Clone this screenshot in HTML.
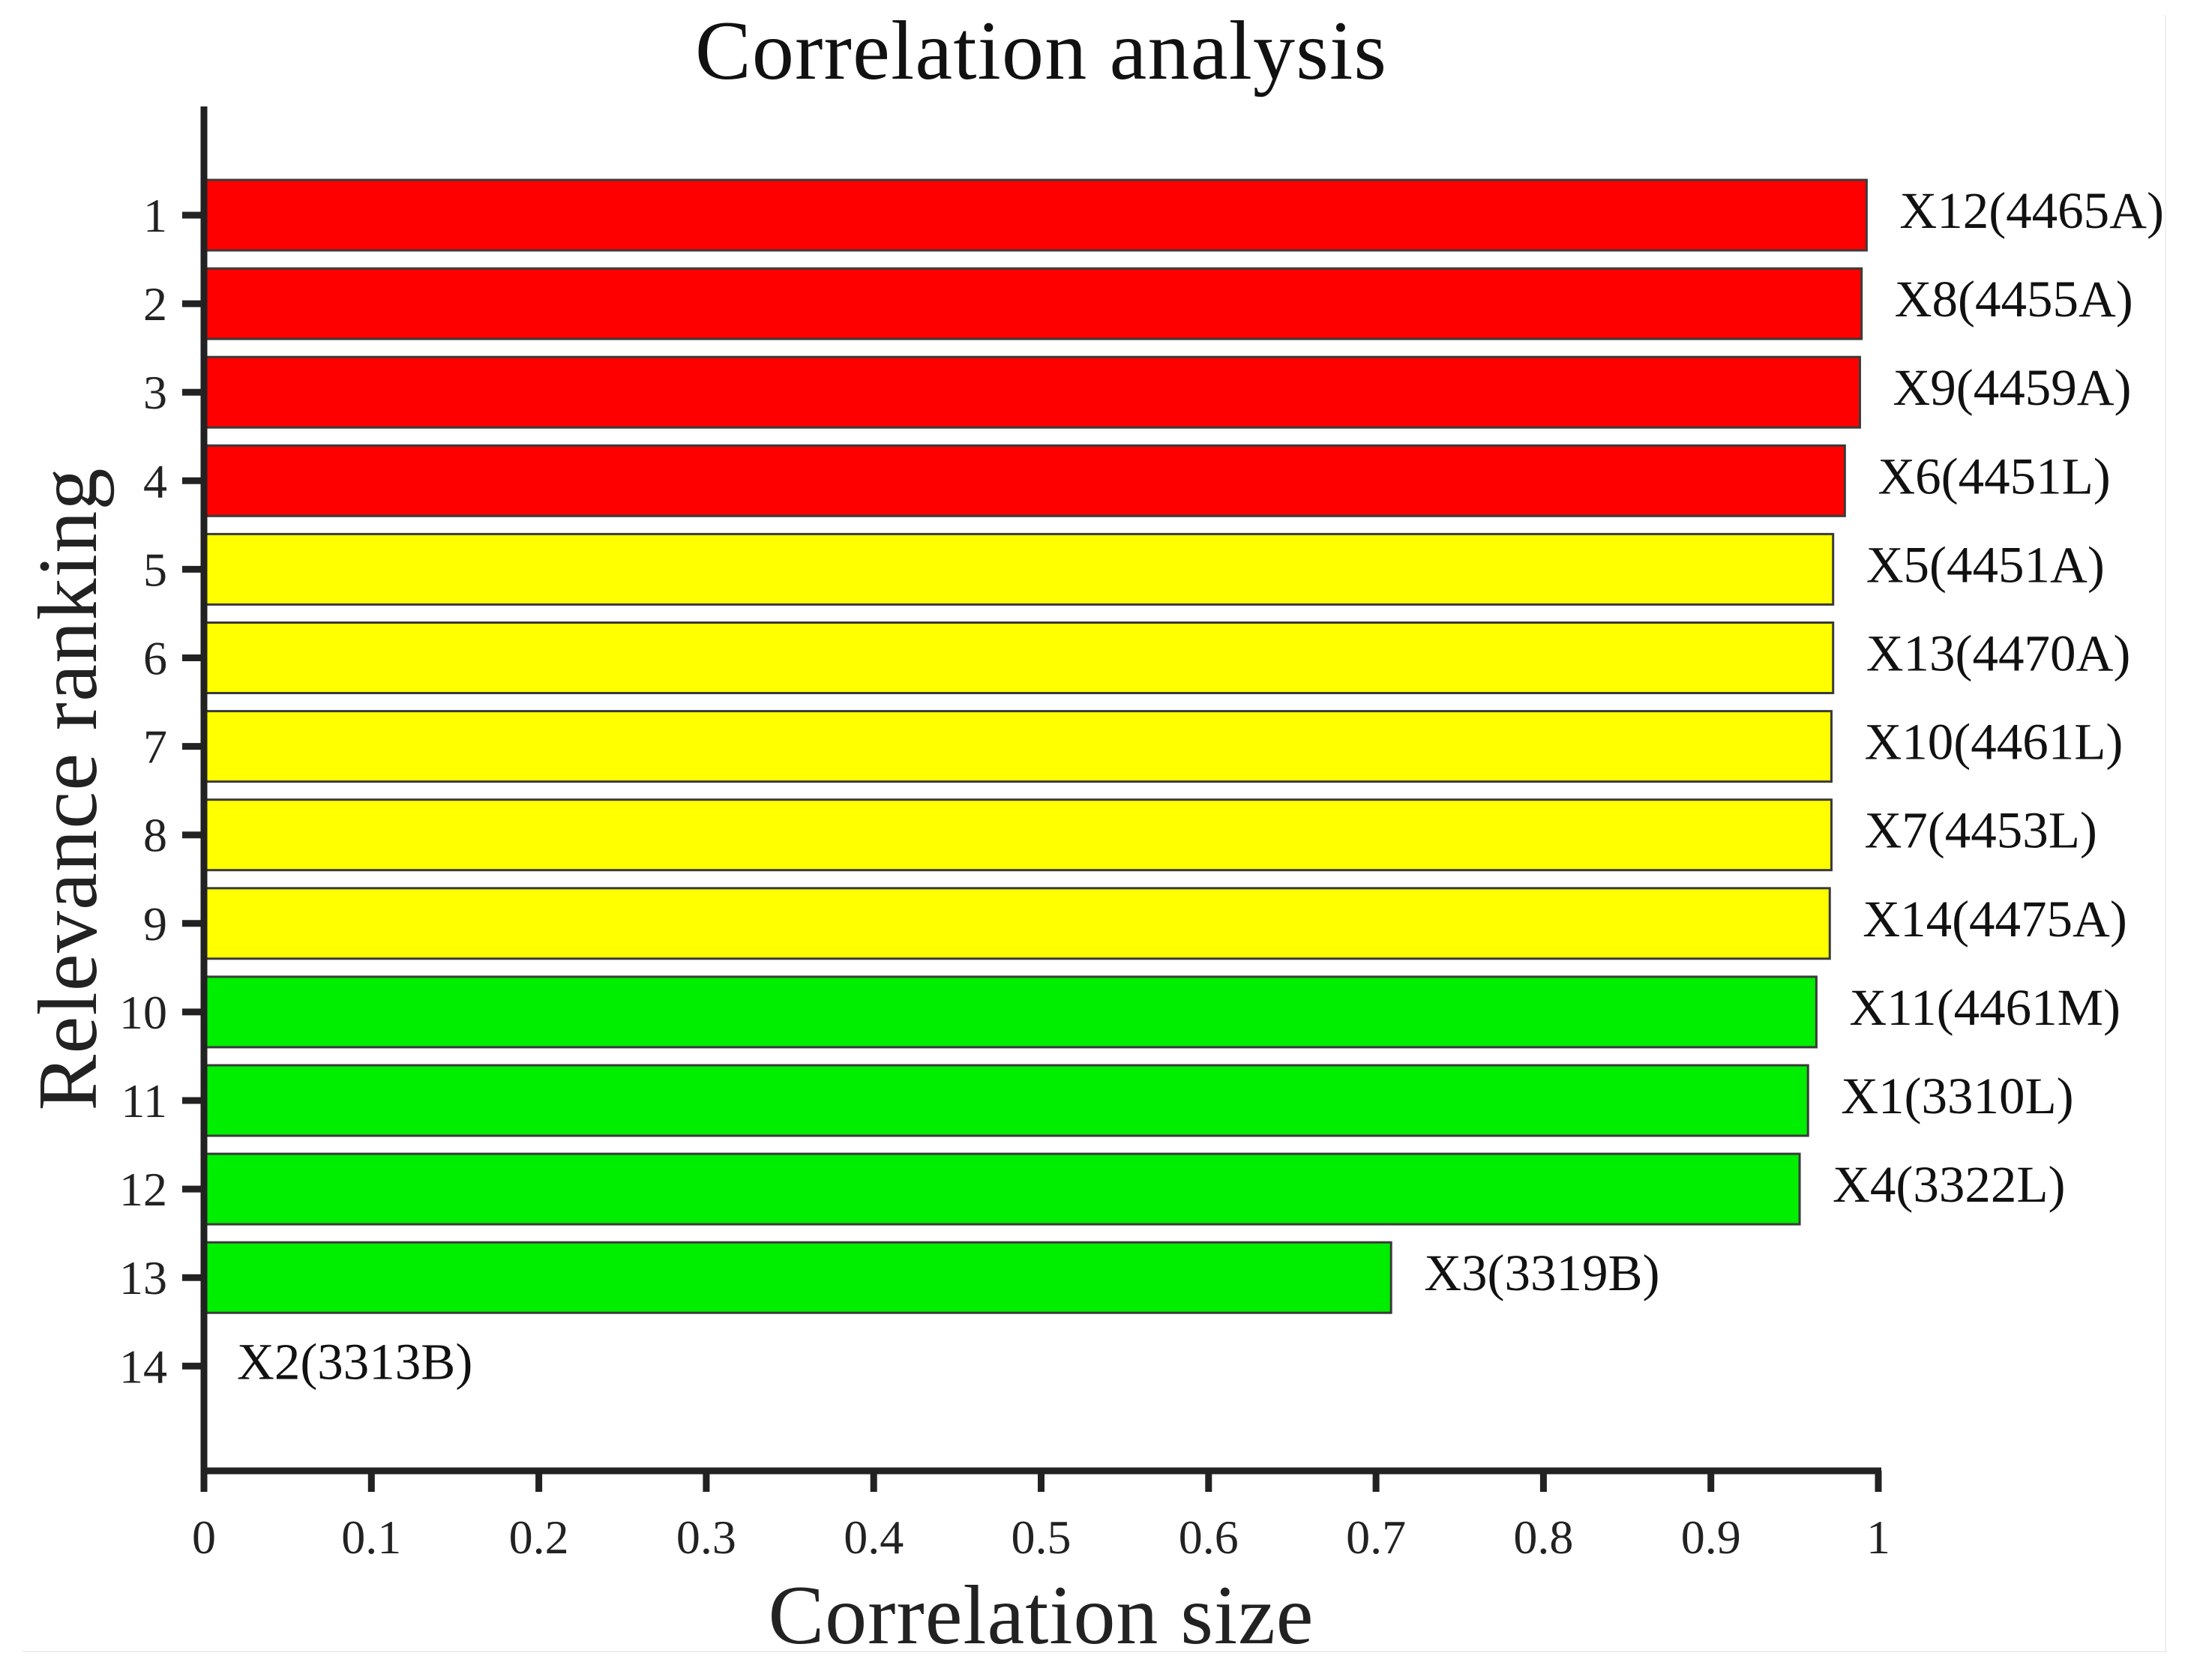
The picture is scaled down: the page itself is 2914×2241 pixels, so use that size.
<!DOCTYPE html>
<html><head><meta charset="utf-8"><style>
html,body{margin:0;padding:0;background:#fff;}
svg{display:block;font-family:"Liberation Serif",serif;}
</style></head><body>
<svg id="chart" width="2914" height="2241" viewBox="0 0 2914 2241">
<text x="1388" y="105" font-size="112" text-anchor="middle" textLength="922" fill="#111">Correlation analysis</text>
<text x="1388" y="2192" font-size="112" text-anchor="middle" textLength="727" fill="#222">Correlation size</text>
<text transform="translate(128,1053) rotate(-90)" font-size="112" text-anchor="middle" textLength="857" fill="#222">Relevance ranking</text>
<line x1="30" y1="2203" x2="2890" y2="2203" stroke="#eee" stroke-width="2"/>
<line x1="2888" y1="20" x2="2888" y2="2203" stroke="#f0f0f0" stroke-width="2"/>
<g id="bars"></g>
<g id="axes"></g>
</svg>
<script>
const labels = ["X12(4465A)","X8(4455A)","X9(4459A)","X6(4451L)","X5(4451A)","X13(4470A)","X10(4461L)","X7(4453L)","X14(4475A)","X11(4461M)","X1(3310L)","X4(3322L)","X3(3319B)","X2(3313B)"];
const values = [0.993,0.990,0.989,0.980,0.973,0.973,0.972,0.972,0.971,0.963,0.958,0.953,0.709,0];
const groups = ["red","red","red","red","yellow","yellow","yellow","yellow","yellow","green","green","green","green","green"];
const xTicks = [0,0.1,0.2,0.3,0.4,0.5,0.6,0.7,0.8,0.9,1];
const xTickLabels = ["0","0.1","0.2","0.3","0.4","0.5","0.6","0.7","0.8","0.9","1"];
const colorMap = {red:"#ff0000",yellow:"#ffff00",green:"#00ee00"};
const NS="http://www.w3.org/2000/svg";
const x = v => 272 + v*(2505-272);
const y = r => 287 + (r-1)*118.1;
const bh = 94;
const bars=document.getElementById('bars'), axes=document.getElementById('axes');
function mk(tag,attrs,parent){const e=document.createElementNS(NS,tag);for(const k in attrs)e.setAttribute(k,attrs[k]);parent.appendChild(e);return e;}
values.forEach((v,i)=>{
  const r=i+1;
  if(v>0){
    const b=mk('rect',{x:x(0),y:y(r)-bh/2,width:x(v)-x(0),height:bh,fill:colorMap[groups[i]],stroke:'#3a3a3a','stroke-width':3},bars);
    
    
  }
  const t=mk('text',{x:x(v)+44,y:y(r)+17,'font-size':69,fill:'#111'},bars);
  t.textContent=labels[i];
  
  
});
const ya=mk('line',{x1:272,y1:142,x2:272,y2:1966,stroke:'#222','stroke-width':9},axes);


const xa=mk('line',{x1:268,y1:1962,x2:2509,y2:1962,stroke:'#222','stroke-width':9},axes);


labels.forEach((l,i)=>{
  const r=i+1;
  mk('line',{x1:243,y1:y(r),x2:272,y2:y(r),stroke:'#222','stroke-width':9},axes);
  const t=mk('text',{x:223,y:y(r)+22,'font-size':64,'text-anchor':'end',fill:'#222'},axes);
  t.textContent=String(r);
  
  
});
xTicks.forEach((v,i)=>{
  mk('line',{x1:x(v),y1:1962,x2:x(v),y2:1990,stroke:'#222','stroke-width':9},axes);
  const t=mk('text',{x:x(v),y:2072,'font-size':64,'text-anchor':'middle',fill:'#222'},axes);
  t.textContent=xTickLabels[i];
  
  
});
</script>
</body></html>
